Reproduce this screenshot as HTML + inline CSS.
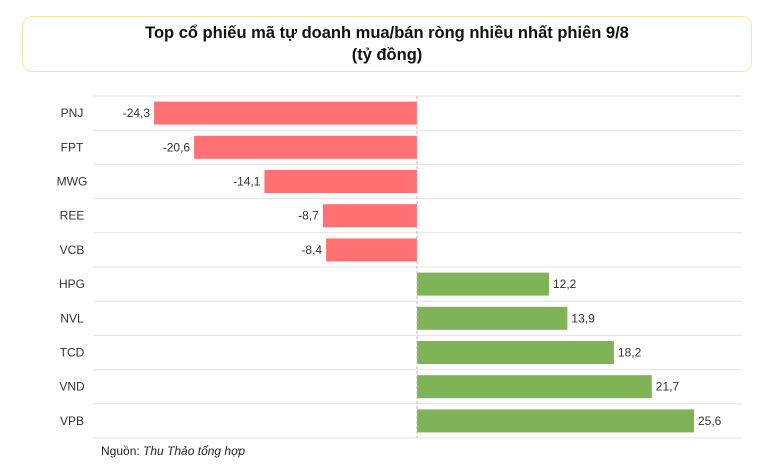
<!DOCTYPE html>
<html><head><meta charset="utf-8"><style>
body{margin:0;width:775px;height:465px;background:#fff;overflow:hidden;font-family:"Liberation Sans","DejaVu Sans",sans-serif}
#title{position:absolute;left:22px;top:16px;width:730px;height:56px;border:1.5px solid #fde49a;border-radius:10px;box-sizing:border-box;text-align:center;font-weight:bold;font-size:16.5px;line-height:22px;padding-top:5px;color:#111}
#src{position:absolute;left:101px;top:444px;font-size:12px;color:#222}
</style></head><body>
<div id="title">Top cổ phiếu mã tự doanh mua/bán ròng nhiều nhất phiên 9/8<br>(tỷ đồng)</div>
<svg id="chart" width="775" height="465" style="position:absolute;left:0;top:0"></svg>
<div id="src">Nguồn: <i>Thu Thảo tổng hợp</i></div>
<script>
const categories=["PNJ","FPT","MWG","REE","VCB","HPG","NVL","TCD","VND","VPB"];
const values=[-24.3,-20.6,-14.1,-8.7,-8.4,12.2,13.9,18.2,21.7,25.6];
const labels=["-24,3","-20,6","-14,1","-8,7","-8,4","12,2","13,9","18,2","21,7","25,6"];
const svg=document.getElementById('chart');const NS='http://www.w3.org/2000/svg';
const x0=417,k=10.82,top0=96,rowH=34.2,gx1=93,gx2=742;
const xs=v=>x0+v*k;
function mk(t,a){const e=document.createElementNS(NS,t);for(const n in a)e.setAttribute(n,a[n]);svg.appendChild(e);return e;}
for(let i=0;i<=categories.length;i++){
 const g=mk('line',{x1:gx1,x2:gx2,y1:top0+i*rowH,y2:top0+i*rowH,stroke:'#e3e3e3','stroke-width':1});
 
 
}
categories.forEach((c,i)=>{
 const v=values[i],yc=top0+i*rowH+rowH/2;
 const xa=Math.min(xs(0),xs(v)),w=Math.abs(xs(v)-xs(0));
 const b=mk('rect',{x:xa,y:yc-11.5,width:w,height:23,fill:v<0?'#ff7173':'#7eb457'});
 
 
 const t=mk('text',{x:72,y:yc+4,'font-size':12,fill:'#333','text-anchor':'middle'});
 t.textContent=c;
 
 
 const vl=mk('text',{x:v<0?xs(v)-4:xs(v)+4,y:yc+4,'font-size':12,fill:'#333','text-anchor':v<0?'end':'start'});
 vl.textContent=labels[i];
 
 
});
const z=mk('line',{x1:x0,x2:x0,y1:top0,y2:top0+rowH*categories.length,stroke:'#bbb','stroke-width':1,'stroke-dasharray':'3,2'});


</script>
</body></html>
